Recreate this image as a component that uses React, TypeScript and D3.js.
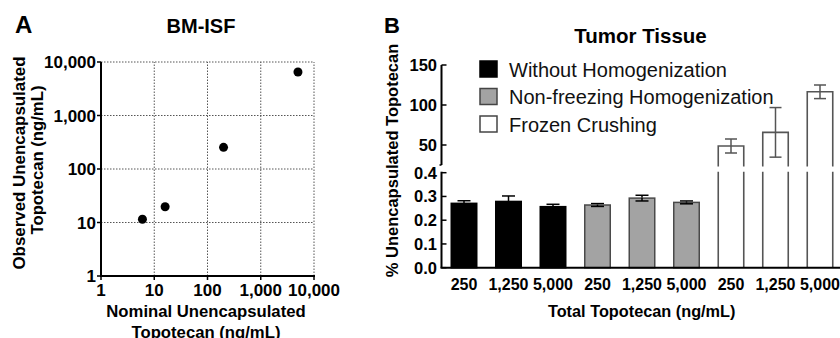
import React from "react";
import * as d3 from "d3";

// Panel A data
const nominalA = [6, 16, 200, 5000];
const observedA = [11.5, 19.7, 254, 6500];
const logTicks = [1, 10, 100, 1000, 10000];

// Panel B data
const doses = ["250", "1,250", "5,000"];
const groups = ["Without Homogenization", "Non-freezing Homogenization", "Frozen Crushing"];
const withoutMean = [0.271, 0.279, 0.257];
const withoutErr = [0.011, 0.023, 0.010];
const nonFreezeMean = [0.264, 0.293, 0.275];
const nonFreezeErr = [0.006, 0.012, 0.006];
const frozenMean = [48.75, 65.8, 116.5];
const frozenErr = [8.75, 31, 8.5];
const lowerTicks = [0.0, 0.1, 0.2, 0.3, 0.4];
const upperTicks = [50, 100, 150];

const FONT = "'Liberation Sans', Arial, Helvetica, sans-serif";
const fmt = d3.format(",");

export default function App() {
  // Panel A scales
  const xA = d3.scaleLog().domain([1, 10000]).range([101, 314]);
  const yA = d3.scaleLog().domain([1, 10000]).range([276, 62]);

  // Panel B scales
  const cats = groups.flatMap((g) => doses.map((d) => g + "|" + d));
  const xB = d3.scalePoint<string>().domain(cats).range([464, 820]);
  const barW = 25.5;
  const yLow = d3.scaleLinear().domain([0, 0.4]).range([267.7, 172.7]);
  const yUp = d3.scaleLinear().domain([25, 150]).range([165, 65]);
  const axisX = 441.5;

  const lowerGroups = [
    { mean: withoutMean, err: withoutErr, fill: "#000", stroke: "#000", g: 0 },
    { mean: nonFreezeMean, err: nonFreezeErr, fill: "#a3a3a3", stroke: "#4a4a4a", g: 1 },
  ];
  const legendFills = ["#000", "#a3a3a3", "#fff"];
  const legendStrokes = ["#000", "#444", "#444"];

  return (
    <svg width={840} height={338} style={{ position: "absolute", left: 0, top: 0, background: "#fff" }} fontFamily={FONT}>
      {/* ---------- Panel A ---------- */}
      <text x={15} y={33} fontSize={24} fontWeight="bold">A</text>
      <text x={201} y={33} fontSize={20} fontWeight="bold" textAnchor="middle">BM-ISF</text>
      {/* grid */}
      {logTicks.slice(1).map((t) => (
        <line key={"gx" + t} x1={xA(t)} x2={xA(t)} y1={yA(1)} y2={yA(10000)} stroke="#555" strokeWidth={1} strokeDasharray="1.5,1.5" />
      ))}
      {logTicks.slice(1).map((t) => (
        <line key={"gy" + t} x1={xA(1)} x2={xA(10000)} y1={yA(t)} y2={yA(t)} stroke="#555" strokeWidth={1} strokeDasharray="1.5,1.5" />
      ))}
      {/* axes */}
      <line x1={xA(1)} x2={xA(1)} y1={yA(1) + 1} y2={yA(10000)} stroke="#000" strokeWidth={2} />
      <line x1={xA(1) - 1} x2={xA(10000) + 1} y1={yA(1)} y2={yA(1)} stroke="#000" strokeWidth={2} />
      {logTicks.map((t) => (
        <g key={"ty" + t}>
          <line x1={xA(1) - 4} x2={xA(1)} y1={yA(t)} y2={yA(t)} stroke="#000" strokeWidth={1.5} />
          <text x={96} y={yA(t)} dy="0.36em" fontSize={17} fontWeight="bold" textAnchor="end">{fmt(t)}</text>
        </g>
      ))}
      {logTicks.map((t) => (
        <g key={"tx" + t}>
          <line x1={xA(t)} x2={xA(t)} y1={yA(1)} y2={yA(1) + 4} stroke="#000" strokeWidth={1.5} />
          <text x={xA(t)} y={296} fontSize={17} fontWeight="bold" textAnchor="middle">{fmt(t)}</text>
        </g>
      ))}
      {nominalA.map((v, i) => (
        <circle key={"pt" + i} cx={xA(v)} cy={yA(observedA[i])} r={4.5} fill="#000" />
      ))}
      <text x={206} y={317} fontSize={16.7} fontWeight="bold" textAnchor="middle">Nominal Unencapsulated</text>
      <text x={206} y={338} fontSize={16.7} fontWeight="bold" textAnchor="middle">Topotecan (ng/mL)</text>
      <text transform="translate(25,163) rotate(-90)" fontSize={16.9} fontWeight="bold" textAnchor="middle">Observed Unencapsulated</text>
      <text transform="translate(43,160) rotate(-90)" fontSize={16.7} fontWeight="bold" textAnchor="middle">Topotecan (ng/mL)</text>

      {/* ---------- Panel B ---------- */}
      <text x={384} y={33} fontSize={22} fontWeight="bold">B</text>
      <text x={640.5} y={43} fontSize={20.5} fontWeight="bold" textAnchor="middle">Tumor Tissue</text>
      <text transform="translate(398,160.5) rotate(-90)" fontSize={16.5} fontWeight="bold" textAnchor="middle">% Unencapsulated Topotecan</text>

      {/* legend */}
      {groups.map((g, i) => (
        <g key={"lg" + i}>
          <rect x={480} y={61 + i * 27.5} width={17} height={16} fill={legendFills[i]} stroke={legendStrokes[i]} strokeWidth={1.5} />
          <text x={509} y={76.7 + i * 27.5} fontSize={20} fill="#111">{g}</text>
        </g>
      ))}

      {/* lower-segment bars */}
      {lowerGroups.map((grp) =>
        doses.map((d, j) => {
          const cx = xB(groups[grp.g] + "|" + d)!;
          const top = yLow(grp.mean[j]);
          const eTop = yLow(grp.mean[j] + grp.err[j]);
          const eBot = yLow(grp.mean[j] - grp.err[j]);
          return (
            <g key={"b" + grp.g + j}>
              <line x1={cx} x2={cx} y1={eTop} y2={eBot} stroke="#000" strokeWidth={1.5} />
              <line x1={cx - 6.5} x2={cx + 6.5} y1={eTop} y2={eTop} stroke="#000" strokeWidth={1.5} />
              <rect x={cx - barW / 2} y={top} width={barW} height={yLow(0) - top} fill={grp.fill} stroke={grp.stroke} strokeWidth={1.5} />
              <line x1={cx} x2={cx} y1={top} y2={eBot} stroke="#000" strokeWidth={1.5} />
              <line x1={cx - 6.5} x2={cx + 6.5} y1={eBot} y2={eBot} stroke="#000" strokeWidth={1.5} />
            </g>
          );
        })
      )}

      {/* frozen crushing bars (broken) */}
      {doses.map((d, j) => {
        const cx = xB(groups[2] + "|" + d)!;
        const l = cx - barW / 2;
        const r = cx + barW / 2;
        const top = yUp(frozenMean[j]);
        const eTop = yUp(frozenMean[j] + frozenErr[j]);
        const eBot = yUp(frozenMean[j] - frozenErr[j]);
        const upBottom = yUp(25) + 1.5;
        const lowTop = yLow(0.4) - 1;
        return (
          <g key={"fz" + j} stroke="#555" fill="none">
            <path d={`M${l},${upBottom}V${top}H${r}V${upBottom}`} strokeWidth={1.6} />
            <path d={`M${l},${lowTop}V${yLow(0)}M${r},${lowTop}V${yLow(0)}`} strokeWidth={1.6} />
            <line x1={cx} x2={cx} y1={eTop} y2={eBot} strokeWidth={1.5} />
            <line x1={cx - 6} x2={cx + 6} y1={eTop} y2={eTop} strokeWidth={1.5} />
            <line x1={cx - 6} x2={cx + 6} y1={eBot} y2={eBot} strokeWidth={1.5} />
          </g>
        );
      })}

      {/* y axes (broken) */}
      <line x1={axisX} x2={axisX} y1={yUp(150)} y2={yUp(25)} stroke="#000" strokeWidth={2} />
      <line x1={axisX - 2} x2={axisX} y1={yUp(25)} y2={yUp(25)} stroke="#000" strokeWidth={1.5} />
      {upperTicks.map((t) => (
        <g key={"ut" + t}>
          <line x1={axisX} x2={axisX + 5} y1={yUp(t)} y2={yUp(t)} stroke="#000" strokeWidth={1.5} />
          <text x={437} y={yUp(t)} dy="0.36em" fontSize={16.5} fontWeight="bold" textAnchor="end">{t}</text>
        </g>
      ))}
      <line x1={axisX} x2={axisX} y1={yLow(0.4) - 1} y2={yLow(0)} stroke="#000" strokeWidth={2} />
      {lowerTicks.map((t) => (
        <g key={"lt" + t}>
          <line x1={axisX} x2={axisX + 5} y1={yLow(t)} y2={yLow(t)} stroke="#000" strokeWidth={1.5} />
          <text x={437} y={yLow(t)} dy="0.36em" fontSize={16.5} fontWeight="bold" textAnchor="end">{t.toFixed(1)}</text>
        </g>
      ))}
      {/* x axis */}
      <line x1={axisX - 1} x2={840} y1={yLow(0)} y2={yLow(0)} stroke="#000" strokeWidth={2} />
      {cats.map((c) => (
        <text key={"xl" + c} x={xB(c)!} y={290} fontSize={16} fontWeight="bold" textAnchor="middle">{c.split("|")[1]}</text>
      ))}
      <text x={641.7} y={317} fontSize={16.3} fontWeight="bold" textAnchor="middle">Total Topotecan (ng/mL)</text>
    </svg>
  );
}
